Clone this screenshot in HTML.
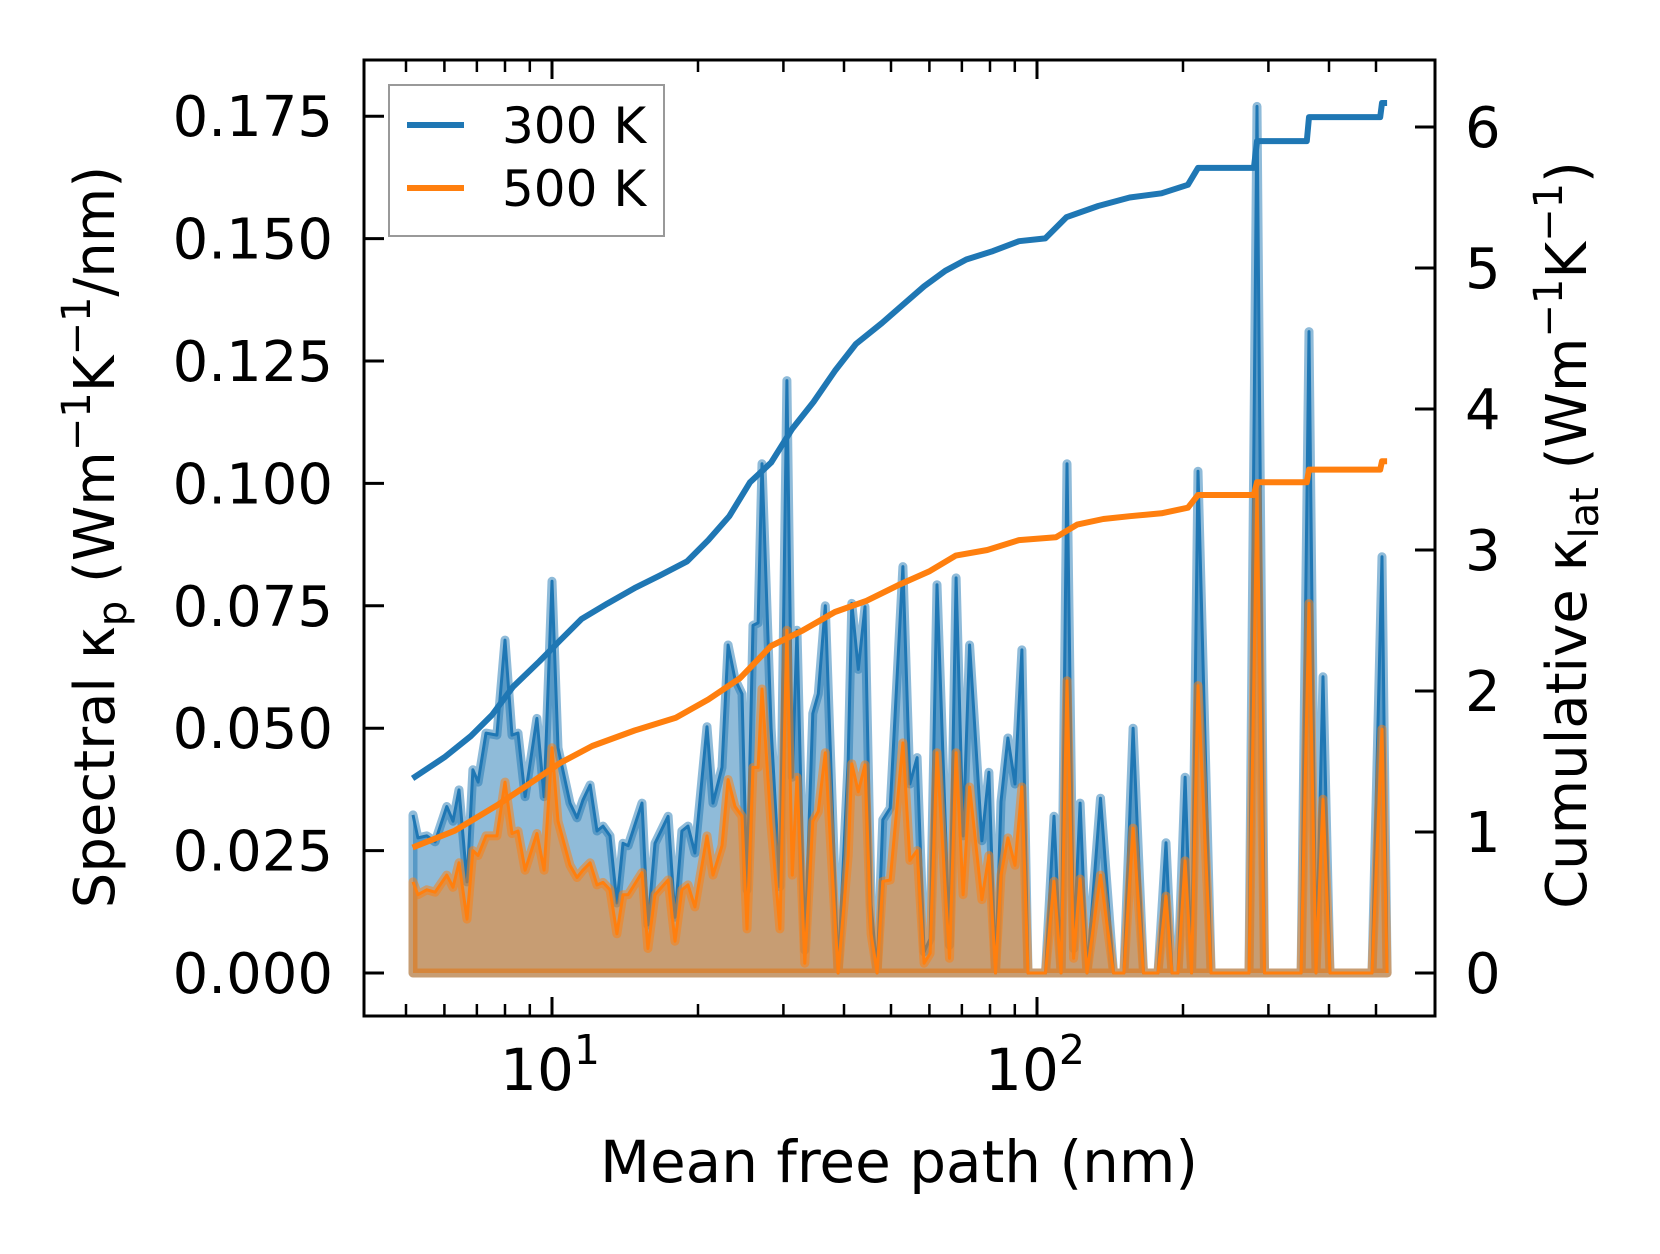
<!DOCTYPE html>
<html><head><meta charset="utf-8"><style>
html,body{margin:0;padding:0;background:#fff}
svg{display:block}
text{font-family:"DejaVu Sans","Liberation Sans",sans-serif;fill:#000}
</style></head><body>
<svg id="chart" width="1660" height="1254" viewBox="0 0 1660 1254" xmlns="http://www.w3.org/2000/svg">
<rect x="0" y="0" width="1660" height="1254" fill="#fff"/>
<g id="plot"></g>
<g id="axes"></g>
</svg>
<script>
// ---- data ----
const mfpSpectral = [5.17,5.29,5.52,5.74,6.07,6.25,6.43,6.68,6.87,7.04,7.31,7.70,8.00,8.27,8.51,8.80,9.31,9.63,10.0,10.29,10.89,11.26,11.58,11.98,12.38,12.74,13.17,13.61,14.01,14.35,15.33,15.77,16.31,17.35,17.93,18.53,19.07,19.71,20.87,21.48,22.41,23.07,23.84,24.65,25.24,25.97,26.6,27.1,28.3,29.5,30.5,31.3,32.0,33.2,34.5,35.4,36.6,38.9,40.8,41.5,42.8,44.2,45.5,46.8,48.1,49.8,52.9,54.7,56.6,58.5,60.2,62.2,66.0,68.1,70.4,72.6,77.0,79.6,82.1,84.3,87.1,90.1,93.1,95.8,104.1,108.4,112.1,115.3,119.0,122.7,126.8,135.2,143.8,151.1,157.8,165.8,177.6,184.5,189.8,195.3,202.0,208.3,214.8,228.5,273.6,284.2,294.5,350.3,363.8,376.1,388.8,401.9,490.7,514.5,527.0];
const spectral300 = [0.0323,0.0276,0.028,0.0268,0.034,0.031,0.0374,0.0186,0.0415,0.039,0.049,0.0486,0.068,0.0486,0.049,0.036,0.052,0.036,0.080,0.046,0.0347,0.0317,0.0353,0.0384,0.029,0.030,0.028,0.0143,0.0265,0.026,0.0347,0.0098,0.0265,0.032,0.0114,0.029,0.030,0.0245,0.0503,0.0347,0.042,0.067,0.060,0.057,0.017,0.071,0.0715,0.104,0.05,0.0176,0.121,0.04,0.07,0.0047,0.053,0.057,0.075,0.0,0.0435,0.0755,0.062,0.0748,0.0139,0.0,0.0313,0.0337,0.083,0.0386,0.044,0.0043,0.007,0.0793,0.0057,0.0807,0.028,0.067,0.027,0.041,0.0,0.035,0.048,0.0386,0.066,0.0,0.0,0.032,0.0,0.104,0.005,0.0347,0.0,0.0357,0.0,0.0,0.050,0.0,0.0,0.0266,0.0,0.0,0.040,0.0,0.1025,0.0,0.0,0.177,0.0,0.0,0.131,0.0,0.0605,0.0,0.0,0.085,0.0];
const spectral500 = [0.0186,0.016,0.017,0.0165,0.020,0.0175,0.0225,0.011,0.025,0.024,0.028,0.028,0.039,0.0285,0.029,0.021,0.0285,0.021,0.046,0.031,0.022,0.0195,0.021,0.0225,0.018,0.0185,0.017,0.008,0.016,0.016,0.0205,0.005,0.016,0.019,0.0065,0.017,0.018,0.0135,0.028,0.020,0.026,0.0395,0.034,0.032,0.009,0.042,0.042,0.058,0.03,0.009,0.070,0.02,0.04,0.002,0.031,0.033,0.045,0.0,0.024,0.0427,0.037,0.0425,0.008,0.0,0.0187,0.019,0.047,0.023,0.025,0.002,0.004,0.045,0.003,0.045,0.016,0.038,0.015,0.024,0.0,0.02,0.0276,0.022,0.038,0.0,0.0,0.0187,0.0,0.0597,0.003,0.0192,0.0,0.020,0.0,0.0,0.0296,0.0,0.0,0.0157,0.0,0.0,0.0229,0.0,0.0587,0.0,0.0,0.099,0.0,0.0,0.0755,0.0,0.0355,0.0,0.0,0.0498,0.0];
const mfpCum300 = [5.16,6.0,6.8,7.52,8.31,9.42,10.4,11.5,13.0,14.8,16.7,19.0,21.0,23.2,25.6,28.3,31.3,34.6,38.3,42.3,47.9,52.9,58.5,64.7,71.5,81.1,91.8,104.0,115.0,133.7,155.3,180.6,204.7,214.8,280.0,284.2,360.0,363.8,510.0,514.5,527.0];
const cum300 = [1.38,1.53,1.68,1.83,2.03,2.21,2.36,2.51,2.62,2.73,2.82,2.92,3.07,3.24,3.48,3.62,3.86,4.05,4.27,4.46,4.61,4.74,4.87,4.98,5.06,5.12,5.19,5.21,5.36,5.44,5.50,5.53,5.59,5.71,5.71,5.90,5.90,6.07,6.07,6.17,6.17];
const mfpCum500 = [5.16,6.31,7.71,8.96,10.4,12.1,14.8,18.0,21.0,24.4,28.3,32.9,38.3,44.5,51.7,60.1,68.0,79.0,91.8,109.4,121.0,137.0,155.3,180.6,204.7,214.8,280.0,284.2,360.0,363.8,510.0,514.5,527.0];
const cum500 = [0.89,1.01,1.19,1.34,1.49,1.61,1.72,1.81,1.94,2.09,2.32,2.43,2.56,2.64,2.75,2.85,2.96,3.00,3.07,3.09,3.18,3.22,3.24,3.26,3.30,3.39,3.39,3.48,3.48,3.57,3.57,3.63,3.63];
const leftTicks = [0,0.025,0.05,0.075,0.1,0.125,0.15,0.175];
const leftTickLabels = ["0.000","0.025","0.050","0.075","0.100","0.125","0.150","0.175"];
const rightTicks = [0,1,2,3,4,5,6];
const xMajor = [10,100];
const xMinor = [5,6,7,8,9,20,30,40,50,60,70,80,90,200,300,400,500];

// ---- axes functions ----
const L=364,R=1435,T=60,B=1016;
const xs = m => 552 + 485*(Math.log10(m)-1);
const yl = v => 973 - v/0.025*122.4;
const yr = k => 973 - k*141;
const NS='http://www.w3.org/2000/svg';
const plot=document.getElementById('plot'), axes=document.getElementById('axes');
function mk(tag, attrs, parent){const e=document.createElementNS(NS,tag);for(const k in attrs)e.setAttribute(k,attrs[k]);parent.appendChild(e);return e;}

const clip=mk('clipPath',{id:'clip'},plot);mk('rect',{x:L,y:T,width:R-L,height:B-T},clip);
const g=mk('g',{'clip-path':'url(#clip)'},plot);

function spectral(vals,color,name){
  let pts=mfpSpectral.map((m,i)=>xs(m).toFixed(1)+','+yl(vals[i]).toFixed(1));
  const poly=[xs(mfpSpectral[0]).toFixed(1)+','+yl(0)].concat(pts,[xs(mfpSpectral[mfpSpectral.length-1]).toFixed(1)+','+yl(0)]).join(' ');
  const f=mk('polygon',{points:poly,fill:color,'fill-opacity':0.5,stroke:color,'stroke-opacity':0.5,'stroke-width':9,'stroke-linejoin':'round'},g);
  
  
  const l=mk('polyline',{points:pts.join(' '),fill:'none',stroke:color,'stroke-width':3,'stroke-linejoin':'round'},g);
  
  
}
spectral(spectral300,'#1f77b4','spectral-300k');
spectral(spectral500,'#ff7f0e','spectral-500k');

function cum(xv,vals,color,name){
  const pts=xv.map((m,i)=>xs(m).toFixed(1)+','+yr(vals[i]).toFixed(1)).join(' ');
  const l=mk('polyline',{points:pts,fill:'none',stroke:color,'stroke-width':6,'stroke-linejoin':'round'},g);
  
  
}
cum(mfpCum300,cum300,'#1f77b4','cumulative-300k-line');
cum(mfpCum500,cum500,'#ff7f0e','cumulative-500k-line');

// frame
const fr=mk('rect',{x:L,y:T,width:R-L,height:B-T,fill:'none',stroke:'#000','stroke-width':3},axes);



// x ticks
xMajor.forEach(m=>{const x=xs(m);
  mk('line',{x1:x,x2:x,y1:B,y2:B-19,stroke:'#000','stroke-width':3},axes);
  mk('line',{x1:x,x2:x,y1:T,y2:T+19,stroke:'#000','stroke-width':3},axes);
  const t=mk('text',{x:x-2,y:1090,'font-size':58,'text-anchor':'middle'},axes);
  
  
  t.innerHTML='10<tspan dy="-26" font-size="41">'+Math.round(Math.log10(m))+'</tspan>';
});
xMinor.forEach(m=>{const x=xs(m);
  mk('line',{x1:x,x2:x,y1:B,y2:B-12,stroke:'#000','stroke-width':2.5},axes);
  mk('line',{x1:x,x2:x,y1:T,y2:T+12,stroke:'#000','stroke-width':2.5},axes);
});
// left ticks
leftTicks.forEach((v,i)=>{const y=yl(v);
  mk('line',{x1:L,x2:L+20,y1:y,y2:y,stroke:'#000','stroke-width':3},axes);
  const t=mk('text',{x:333,y:y+20,'font-size':56,'text-anchor':'end'},axes);
  
  
  t.textContent=leftTickLabels[i];
});
// right ticks
rightTicks.forEach(k=>{const y=yr(k);
  mk('line',{x1:R,x2:R-20,y1:y,y2:y,stroke:'#000','stroke-width':3},axes);
  const t=mk('text',{x:1465,y:y+20,'font-size':56,'text-anchor':'start'},axes);
  
  
  t.textContent=String(k);
});
</script>
<svg style="position:absolute;left:0;top:0" width="1660" height="1254" viewBox="0 0 1660 1254" xmlns="http://www.w3.org/2000/svg">
<text x="899" y="1182" font-size="58" text-anchor="middle" style="font-family:'DejaVu Sans','Liberation Sans',sans-serif">Mean free path (nm)</text>
<text transform="translate(114,537) rotate(-90)" font-size="56" text-anchor="middle" style="font-family:'DejaVu Sans','Liberation Sans',sans-serif">Spectral κ<tspan dy="12" font-size="40">p</tspan><tspan dy="-12"> (Wm</tspan><tspan dy="-24" font-size="40">−1</tspan><tspan dy="24">K</tspan><tspan dy="-24" font-size="40">−1</tspan><tspan dy="24">/nm)</tspan></text>
<text transform="translate(1586,535) rotate(-90)" font-size="56" text-anchor="middle" style="font-family:'DejaVu Sans','Liberation Sans',sans-serif">Cumulative κ<tspan dy="12" font-size="40">lat</tspan><tspan dy="-12"> (Wm</tspan><tspan dy="-24" font-size="40">−1</tspan><tspan dy="24">K</tspan><tspan dy="-24" font-size="40">−1</tspan><tspan dy="24">)</tspan></text>
<g>
<rect x="389" y="85" width="275" height="151" fill="#fff" fill-opacity="0.8" stroke="#999" stroke-width="2"/>
<line x1="407" x2="464" y1="125" y2="125" stroke="#1f77b4" stroke-width="6"/>
<text x="502" y="143" font-size="50" style="font-family:'DejaVu Sans','Liberation Sans',sans-serif">300 K</text>
<line x1="407" x2="464" y1="188" y2="188" stroke="#ff7f0e" stroke-width="6"/>
<text x="502" y="206" font-size="50" style="font-family:'DejaVu Sans','Liberation Sans',sans-serif">500 K</text>
</g>
</svg>
</body></html>
